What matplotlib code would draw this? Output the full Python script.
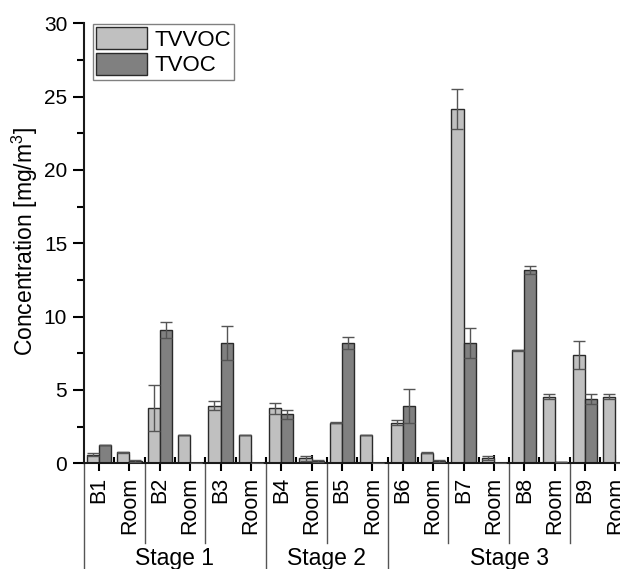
import numpy as np
import matplotlib
matplotlib.use("Agg")
import matplotlib.pyplot as plt
import matplotlib.transforms as mtransforms
from matplotlib.ticker import MultipleLocator

plt.rcParams['font.family'] = ['Liberation Sans', 'DejaVu Sans']
plt.rcParams['font.size'] = 15
plt.rcParams['mathtext.fontset'] = 'custom'
plt.rcParams['mathtext.rm'] = 'Liberation Sans'
plt.rcParams['mathtext.it'] = 'Liberation Sans'
plt.rcParams['mathtext.default'] = 'regular'

# data
labels = ['B1', 'Room', 'B2', 'Room', 'B3', 'Room',
          'B4', 'Room', 'B5', 'Room',
          'B6', 'Room', 'B7', 'Room', 'B8', 'Room', 'B9', 'Room']
tvvoc = [0.60, 0.75, 3.75, 1.91, 3.93, 1.91,
         3.75, 0.34, 2.77, 1.91,
         2.77, 0.73, 24.16, 0.39, 7.70, 4.54, 7.38, 4.54]
tvvoc_err = [0.08, 0.03, 1.57, 0.0, 0.30, 0.0,
             0.38, 0.17, 0.03, 0.0,
             0.16, 0.03, 1.36, 0.14, 0.05, 0.16, 0.93, 0.16]
tvoc = [1.25, 0.15, 9.07, 0.03, 8.20, 0.03,
        3.34, 0.16, 8.20, 0.03,
        3.91, 0.16, 8.20, 0.03, 13.18, 0.07, 4.38, 0.05]
tvoc_err = [0.03, 0.05, 0.55, 0.0, 1.18, 0.0,
            0.30, 0.05, 0.43, 0.0,
            1.13, 0.05, 1.05, 0.0, 0.25, 0.0, 0.32, 0.0]
stages = ['Stage 1', 'Stage 2', 'Stage 3']
stage_bounds = [(-0.5, 5.5), (5.5, 9.5), (9.5, 17.5)]
pair_bounds = [1.5, 3.5, 7.5, 11.5, 13.5, 15.5]

W, H = 620, 569
fig = plt.figure(figsize=(W / 100, H / 100), dpi=100)
# axes runs past the right edge, the reference is cropped there
ax = fig.add_axes([83.8 / W, (H - 463.3) / H, 562 / W, 440 / H])

x = np.arange(len(labels))
bw = 0.4
ax.bar(x - bw / 2, tvvoc, bw, color='#c0c0c0', edgecolor='#2a2a2a', linewidth=1, label='TVVOC', zorder=2)
ax.bar(x + bw / 2, tvoc, bw, color='#808080', edgecolor='#2a2a2a', linewidth=1, label='TVOC', zorder=2)
ax.errorbar(x - bw / 2, tvvoc, yerr=tvvoc_err, fmt='none', ecolor='#555555', elinewidth=1, capsize=4.5, capthick=1, zorder=3)
ax.errorbar(x + bw / 2, tvoc, yerr=tvoc_err, fmt='none', ecolor='#555555', elinewidth=1, capsize=4.5, capthick=1, zorder=3)

ax.set_xlim(-0.5, 18)
ax.set_ylim(0, 30)
ax.set_xticks(x)
ax.set_xticklabels(labels, rotation=90, va='top', fontsize=15.5)
ax.set_xticks(x[:-1] + 0.5, minor=True)
ax.yaxis.set_major_locator(MultipleLocator(5))
ax.yaxis.set_minor_locator(MultipleLocator(2.5))

for s in ['top', 'right']:
    ax.spines[s].set_visible(False)
for s in ['left', 'bottom']:
    ax.spines[s].set_linewidth(1.5)
    ax.spines[s].set_color('#1a1a1a')

ax.tick_params(axis='y', which='major', direction='out', length=8, width=1.5, pad=4)
ax.tick_params(axis='y', which='minor', direction='out', length=5, width=1.5)
ax.tick_params(axis='x', which='major', direction='inout', length=12, width=1.5, pad=4)
ax.tick_params(axis='x', which='minor', direction='in', length=4, width=1.5)

ax.set_ylabel('Concentration [mg/m$^3$]', fontsize=16.5, va='center')
ax.yaxis.set_label_coords(-(83.8 - 25) / 562, (463.3 - 242) / 440)

# group lines and stage names below the axis
trans = mtransforms.blended_transform_factory(ax.transData, ax.transAxes)
y_pair = (463.3 - 543) / 440
y_stage = (463.3 - 575) / 440
for b in pair_bounds:
    ax.plot([b, b], [0, y_pair], transform=trans, color='#555555', lw=1, clip_on=False)
for lo, hi in stage_bounds:
    ax.plot([lo, lo], [0, y_stage], transform=trans, color='#555555', lw=1, clip_on=False)
for name, (lo, hi) in zip(stages, stage_bounds):
    ax.text((lo + hi) / 2, (463.3 - 564.5) / 440, name, transform=trans,
            ha='center', va='baseline', fontsize=16.5)

fig.legend(loc='upper left', bbox_to_anchor=(93 / W, 1 - 24 / H), borderaxespad=0,
           fancybox=False, edgecolor='#808080', framealpha=1, fontsize=16,
           handlelength=2.3, handleheight=1.1, labelspacing=0.12,
           handletextpad=0.3, borderpad=0.15)

fig.savefig('out.png', dpi=100)
